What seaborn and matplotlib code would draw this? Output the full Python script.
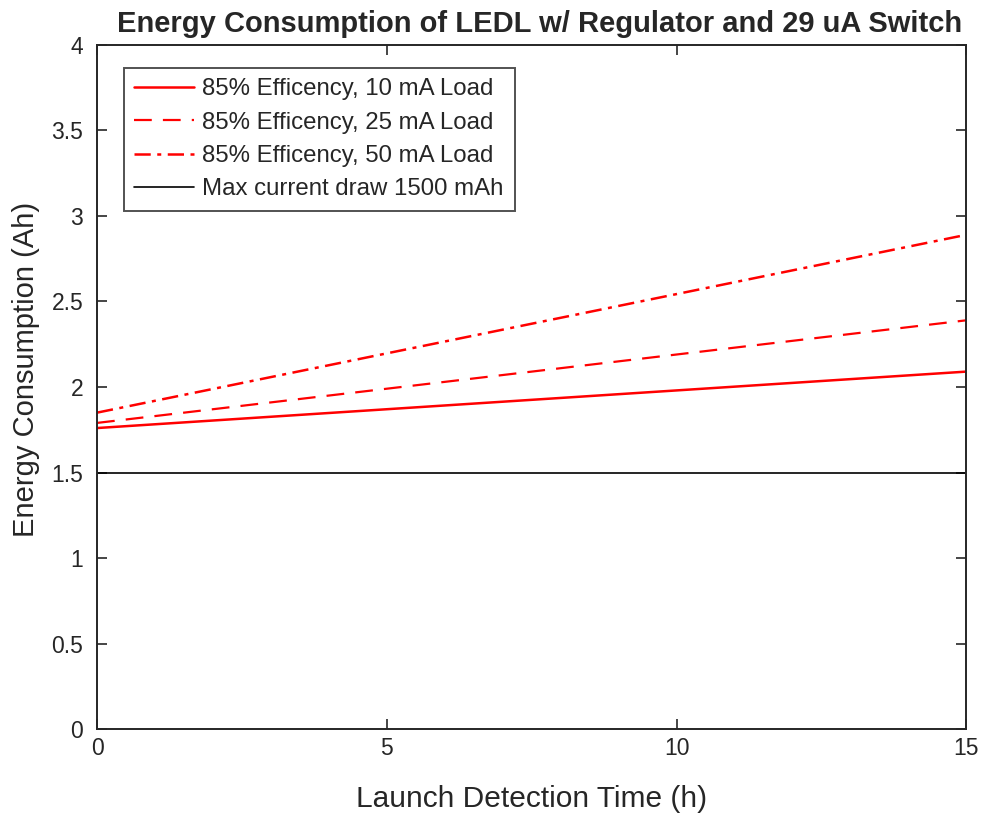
import matplotlib
matplotlib.use("Agg")
import matplotlib.pyplot as plt
import seaborn as sns
import pandas as pd

# Launch detection time (h) at the ends of each run
time_h = [0, 15]
load_10ma = [1.76, 2.09]
load_25ma = [1.79, 2.39]
load_50ma = [1.85, 2.89]
max_draw = [1.5, 1.5]

labels = ["85% Efficency, 10 mA Load", "85% Efficency, 25 mA Load",
          "85% Efficency, 50 mA Load", "Max current draw 1500 mAh"]

sns.set_style("ticks")
plt.rcParams["font.family"] = ["Liberation Sans", "DejaVu Sans"]

fig = plt.figure(figsize=(9.86, 8.15), dpi=100)
ax = fig.add_axes([0.0984, 0.1055, 0.8816, 0.8393])

series = [
    (load_10ma, labels[0], "#ff0000", "-", 1.8),
    (load_25ma, labels[1], "#ff0000", (0, (8, 5)), 1.6),
    (load_50ma, labels[2], "#ff0000", (0, (6.5, 2.6, 1.6, 2.6)), 1.8),
    (max_draw, labels[3], "black", "-", 1.2),
]
for vals, lab, col, ls, lw in series:
    df = pd.DataFrame({"t": time_h, "e": vals})
    sns.lineplot(data=df, x="t", y="e", ax=ax, color=col, label=lab, linewidth=lw)
    ax.lines[-1].set_linestyle(ls)

ax.set_xlim(0, 15)
ax.set_ylim(0, 4)
ax.set_xticks([0, 5, 10, 15])
ax.set_yticks([0, 0.5, 1, 1.5, 2, 2.5, 3, 3.5, 4])
ax.set_yticklabels(["0", "0.5", "1", "1.5", "2", "2.5", "3", "3.5", "4"])
ax.tick_params(direction="in", top=True, right=True, labelsize=16.5, length=7,
               width=1.2, colors="#262626")
ax.tick_params(axis="x", pad=6)
ax.tick_params(axis="y", pad=10)
for s in ax.spines.values():
    s.set_linewidth(1.4)
    s.set_color("#262626")

ax.set_xlabel("Launch Detection Time (h)", fontsize=21.5, color="#262626", labelpad=18)
ax.set_ylabel("Energy Consumption (Ah)", fontsize=21, color="#262626")
ax.yaxis.set_label_coords(-0.066, 0.525)
ax.set_title("Energy Consumption of LEDL w/ Regulator and 29 uA Switch",
             fontsize=21, fontweight="bold", pad=9, x=0.509)

leg = ax.legend(loc="upper left", bbox_to_anchor=(0.0305, 0.967), fontsize=17.3,
                frameon=True, fancybox=False, edgecolor="#262626",
                handlelength=2.5, handletextpad=0.33, borderpad=0.45,
                labelspacing=0.47, borderaxespad=0)
leg.get_frame().set_linewidth(1.4)

fig.savefig("out.png", dpi=100)
